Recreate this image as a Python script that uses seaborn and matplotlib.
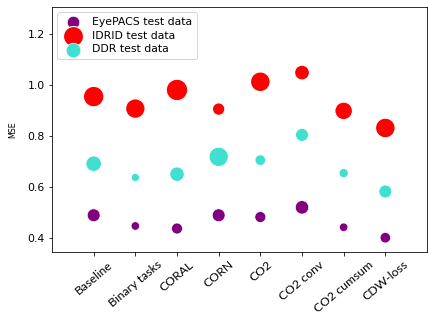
import matplotlib
matplotlib.use("Agg")
import matplotlib.pyplot as plt
import seaborn as sns

methods = ["Baseline", "Binary tasks", "CORAL", "CORN", "CO2",
           "CO2 conv", "CO2 cumsum", "CDW-loss"]

# mean squared error per test set
eyepacs_mse = [0.489, 0.447, 0.437, 0.489, 0.482, 0.520, 0.442, 0.401]
idrid_mse = [0.954, 0.907, 0.980, 0.905, 1.012, 1.048, 0.898, 0.831]
ddr_mse = [0.691, 0.637, 0.650, 0.718, 0.705, 0.804, 0.654, 0.582]

# marker areas (spread over runs)
eyepacs_size = [165, 72, 120, 165, 120, 180, 72, 110]
idrid_size = [420, 380, 460, 155, 385, 220, 310, 385]
ddr_size = [235, 64, 205, 365, 110, 165, 82, 165]

fig = plt.figure(figsize=(428 / 72, 320 / 72), dpi=72)
ax = fig.add_axes([52 / 428, 1 - 252 / 320, 375 / 428, 245 / 320])

sns.scatterplot(x=methods, y=eyepacs_mse, s=eyepacs_size, color="purple",
                label="EyePACS test data", ax=ax)
sns.scatterplot(x=methods, y=idrid_mse, s=idrid_size, color="red",
                label="IDRID test data", ax=ax)
sns.scatterplot(x=methods, y=ddr_mse, s=ddr_size, color="turquoise",
                label="DDR test data", ax=ax)

ax.set_xlim(-1, 8)
ax.set_ylim(0.345, 1.305)
ax.set_yticks([0.4, 0.6, 0.8, 1.0, 1.2])
ax.tick_params(axis="y", labelsize=10.9)
ax.set_xticks(range(len(methods)))
ax.set_xticklabels(methods, rotation=40, fontfamily="Lato", fontsize=12.3)

ax.set_ylabel("MSE", fontsize=7.9)
ax.yaxis.set_label_coords(-0.094, 0.5)

leg = ax.legend(loc="upper left", fontsize=10.9, labelspacing=0.35)
for h, s in zip(leg.legend_handles, [155, 400, 215]):
    h.set_sizes([s])

fig.savefig("out.png", dpi=72)
